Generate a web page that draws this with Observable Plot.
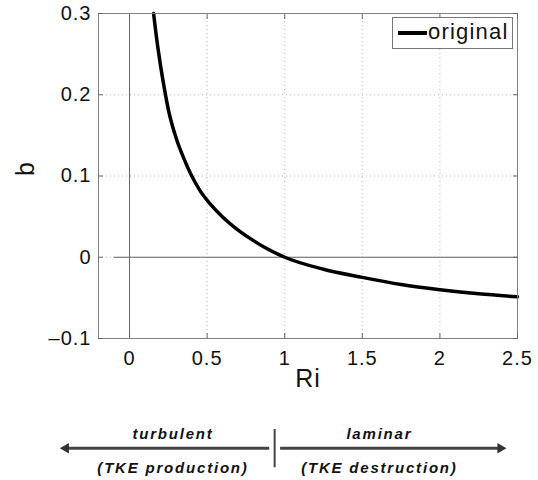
<!DOCTYPE html>
<html>
<head>
<meta charset="utf-8">
<script src="https://cdn.jsdelivr.net/npm/d3@7"></script>
<script src="https://cdn.jsdelivr.net/npm/@observablehq/plot@0.6"></script>
<style>
  html, body { margin: 0; padding: 0; background: white; }
  #wrap { position: relative; width: 538px; height: 480px; overflow: hidden; }
  #wrap svg { display: block; }
  #legend {
    position: absolute; left: 392px; top: 17px; width: 121px; height: 32px;
    box-sizing: border-box; border: 1px solid #777; background: white;
    display: flex; align-items: center; padding-left: 5px;
    font-family: "Liberation Sans", Arial, sans-serif; font-size: 22px; letter-spacing: 1.2px; color: #111;
  }
  #legend .swatch { display: inline-block; width: 29px; height: 3.5px; background: #000; margin-right: 1px; }
  #legend .label { position: relative; top: -1px; }
</style>
</head>
<body>
<div id="wrap"></div>
<script>
// ---- data ----
const riValues = [0.155, 0.17, 0.198, 0.226, 0.252, 0.273, 0.305, 0.347, 0.401, 0.454, 0.518, 0.603, 0.689, 0.774, 0.881, 1.0, 1.25, 1.5, 1.75, 2.0, 2.25, 2.5];
const bValues  = [0.3, 0.276, 0.238, 0.206, 0.18, 0.164, 0.144, 0.123, 0.1, 0.082, 0.066, 0.049, 0.035, 0.0235, 0.011, 0, -0.0148, -0.0248, -0.0336, -0.040, -0.045, -0.0487];
const seriesName = "original";

const xDomain = [-0.2, 2.5];
const yDomain = [-0.1, 0.3];
const xTicks = [0, 0.5, 1, 1.5, 2, 2.5];
const yTicks = [-0.1, 0, 0.1, 0.2, 0.3];
const zeroLineStart = -0.1;
const xLabel = "Ri";
const yLabel = "b";

// annotation below the chart
const regimeLabels = ["turbulent", "laminar"];
const regimeNotes = ["(TKE production)", "(TKE destruction)"];
const regimeCenters = [0.28, 1.61];
const arrowStarts = [0.9, 0.97];
const arrowTips = [-0.41, 2.39];
const dividerAt = 0.935;

const curve = riValues.map((ri, i) => ({ri, b: bValues[i]}));
const regimes = regimeLabels.map((label, i) => ({
  label, note: regimeNotes[i], center: regimeCenters[i], start: arrowStarts[i], tip: arrowTips[i]
}));

const margins = {marginTop: 13, marginBottom: 57, marginLeft: 98, marginRight: 21};
const tickStroke = "#666";

const main = Plot.plot({
  width: 538,
  height: 395,
  ...margins,
  style: {fontFamily: "'Liberation Sans', Arial, sans-serif", fontSize: "20px", color: "#111", background: "white", letterSpacing: "1px", overflow: "visible"},
  x: {domain: xDomain, ticks: xTicks},
  y: {domain: yDomain, ticks: yTicks},
  marks: [
    Plot.gridX(xTicks, {stroke: "#b8b8b8", strokeOpacity: 1, strokeDasharray: "1,3"}),
    Plot.gridY(yTicks, {stroke: "#b8b8b8", strokeOpacity: 1, strokeDasharray: "1,3"}),
    Plot.ruleX([0], {stroke: "#666", strokeWidth: 1}),
    Plot.ruleY([0], {x1: zeroLineStart, x2: xDomain[1], stroke: "#666", strokeWidth: 1}),
    Plot.line(curve, {x: "ri", y: "b", curve: "monotone-x", stroke: "#000", strokeWidth: 3.5}),
    Plot.frame({stroke: "#808080"}),
    // tick labels
    Plot.axisX(xTicks, {anchor: "bottom", tickSize: 0, tickPadding: 12, label: null, tickFormat: d => String(d)}),
    Plot.axisY(yTicks, {anchor: "left", tickSize: 0, tickPadding: 7, label: null, tickFormat: d => d < 0 ? "\u2013" + String(-d) : String(d)}),
    // inward ticks on all four sides
    Plot.axisX(xTicks, {anchor: "bottom", tickSize: 5, dy: -5, stroke: tickStroke, label: null, tickFormat: () => ""}),
    Plot.axisX(xTicks, {anchor: "top", tickSize: 5, dy: 5, stroke: tickStroke, label: null, tickFormat: () => ""}),
    Plot.axisY(yTicks, {anchor: "left", tickSize: 5, dx: 5, stroke: tickStroke, label: null, tickFormat: () => ""}),
    Plot.axisY(yTicks, {anchor: "right", tickSize: 5, dx: -5, stroke: tickStroke, label: null, tickFormat: () => ""}),
    // axis titles
    Plot.text([xLabel], {frameAnchor: "bottom", dy: 40, fontSize: 25, lineAnchor: "middle", fill: "#111"}),
    Plot.text([yLabel], {frameAnchor: "left", dx: -73, rotate: -90, fontSize: 25, lineAnchor: "middle", fill: "#111"})
  ]
});

const notes = Plot.plot({
  width: 538,
  height: 85,
  marginTop: 0, marginBottom: 0, marginLeft: margins.marginLeft, marginRight: margins.marginRight,
  style: {fontFamily: "'Liberation Sans', Arial, sans-serif", fontSize: "15px", fontWeight: "bold", fontStyle: "italic", letterSpacing: "1.8px", background: "white", overflow: "visible"},
  x: {domain: xDomain, axis: null},
  y: {domain: [0, 1], range: [0, 85], axis: null},
  marks: [
    Plot.link(regimes, {x1: "start", x2: "tip", y1: 0.62, y2: 0.62, stroke: "#444", strokeWidth: 3}),
    Plot.dot(regimes, {x: "tip", y: 0.62, symbol: "triangle", r: 3.9, rotate: d => d.tip < d.start ? -90 : 90, fill: "#333", stroke: "none"}),
    Plot.ruleX([dividerAt], {y1: 0.4, y2: 0.85, stroke: "#444", strokeWidth: 2}),
    Plot.text(regimes, {x: "center", y: 0.45, text: "label", lineAnchor: "middle", fill: "#111"}),
    Plot.text(regimes, {x: "center", y: 0.86, text: "note", lineAnchor: "middle", fill: "#111"})
  ]
});

const wrap = document.getElementById("wrap");
wrap.appendChild(main);
wrap.appendChild(notes);

const legend = document.createElement("div");
legend.id = "legend";
legend.innerHTML = `<span class="swatch"></span><span class="label"></span>`;
legend.querySelector(".label").textContent = seriesName;
wrap.appendChild(legend);
</script>
</body>
</html>
